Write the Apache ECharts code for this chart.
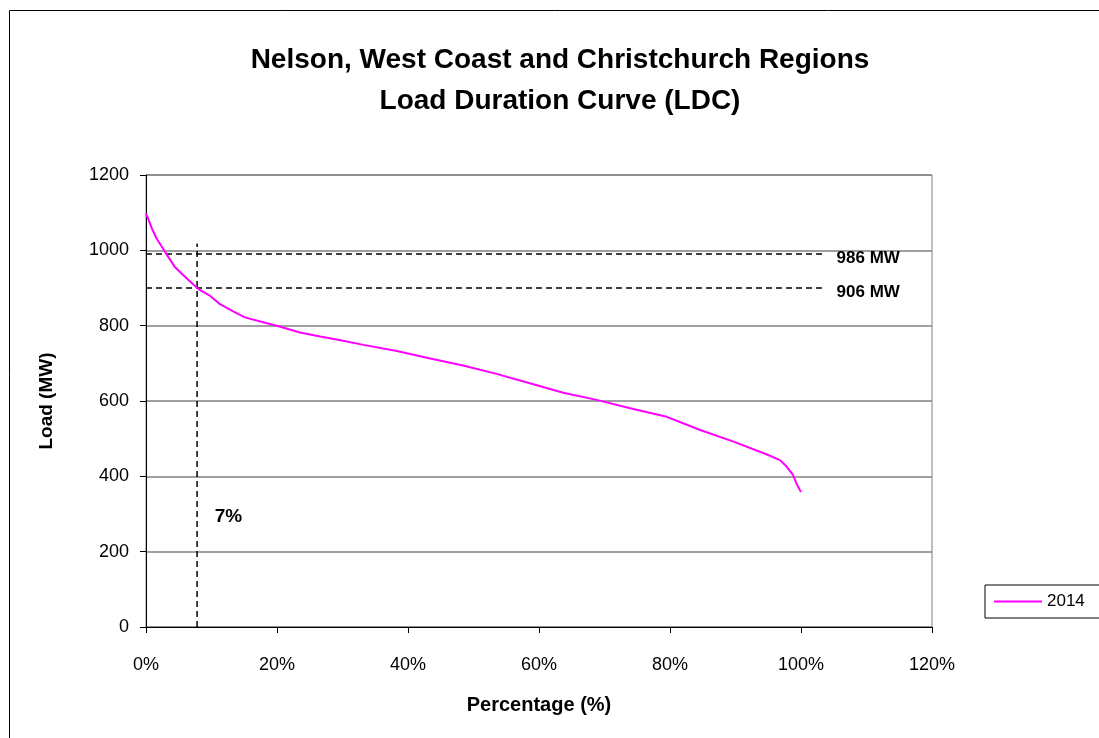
<!DOCTYPE html>
<html>
<head>
<meta charset="utf-8">
<script src="https://cdn.jsdelivr.net/npm/echarts@6/dist/echarts.min.js"></script>
<style>
  html, body { margin: 0; padding: 0; background: #fff; }
  #ldc_chart { width: 1099px; height: 738px; }
</style>
</head>
<body>
<div id="ldc_chart"></div>
<script>
// load duration curve
var pct = [0, 0.9, 1.6, 2.9, 4.4, 6.2, 8.0, 9.8, 11.3, 13.3, 15.1, 17.9, 20.5, 23.5, 26.6, 29.5,
           33.2, 38.3, 43.4, 48.4, 53.5, 58.6, 63.7, 68.8, 74.4, 79.5, 82.0, 84.6, 89.7, 94.8,
           96.8, 97.8, 98.8, 99.3, 100];
var load = [1098, 1058, 1032, 996, 956, 926, 897, 879, 857, 838, 822, 809, 797, 782, 771, 762,
            749, 733, 713, 694, 672, 647, 622, 603, 579, 558, 541, 523, 492, 458,
            443, 426, 403, 381, 358];

// reference lines
var refLoads = [990, 900];
var refLabels = ['986 MW', '906 MW'];
var refEnd = 103.6;
var cutPct = 7.8;
var cutTop = 1018;
var cutLabel = '7%';
var cutLabelPos = [12.6, 292];

var xTicks = [0, 20, 40, 60, 80, 100, 120];
var yTicks = [0, 200, 400, 600, 800, 1000, 1200];

var font = 'Liberation Sans, Arial, sans-serif';

var curve = pct.map(function (p, i) { return [p, load[i]]; });

var series = [
    {
        name: '2014',
        type: 'line',
        data: curve,
        symbol: 'none',
        lineStyle: { color: '#ff00ff', width: 2 },
        itemStyle: { color: '#ff00ff' },
        z: 5
    },
    {
        name: 'cut',
        type: 'line',
        data: [[cutPct, 0], [cutPct, cutTop]],
        symbol: 'none',
        silent: true,
        lineStyle: { color: '#000', width: 1.5, type: [6, 4] }
    },
    {
        name: 'cutLabel',
        type: 'scatter',
        data: [cutLabelPos],
        symbolSize: 0,
        silent: true,
        itemStyle: { opacity: 1, color: '#000' },
        label: {
            show: true,
            position: 'inside',
            formatter: cutLabel,
            color: '#000',
            opacity: 1,
            fontFamily: font,
            fontWeight: 'bold',
            fontSize: 19
        }
    }
];

refLoads.forEach(function (v, i) {
    series.push({
        name: 'ref' + i,
        type: 'line',
        data: [[0, v], [refEnd, v]],
        symbol: 'none',
        silent: true,
        lineStyle: { color: '#000', width: 1.5, type: [6, 4] },
        endLabel: {
            show: true,
            formatter: refLabels[i],
            color: '#000',
            fontFamily: font,
            fontWeight: 'bold',
            fontSize: 17,
            distance: 12,
            offset: [0, 4]
        }
    });
});

var chart = echarts.init(document.getElementById('ldc_chart'));
chart.setOption({
    animation: false,
    backgroundColor: '#fff',
    textStyle: { fontFamily: font },
    graphic: [{
        type: 'rect',
        shape: { x: 9.5, y: 10.5, width: 1200, height: 800 },
        style: { fill: 'none', stroke: '#000', lineWidth: 1 },
        silent: true
    }],
    title: {
        text: 'Nelson, West Coast and Christchurch Regions\nLoad Duration Curve (LDC)',
        left: 555,
        top: 35,
        textAlign: 'center',
        textStyle: {
            fontFamily: font,
            fontWeight: 'bold',
            fontSize: 28,
            lineHeight: 41,
            color: '#000'
        }
    },
    legend: {
        data: ['2014'],
        left: 985,
        top: 585,
        orient: 'vertical',
        itemWidth: 48,
        itemHeight: 2,
        padding: [8, 40, 8, 8],
        borderColor: '#000',
        borderWidth: 1,
        textStyle: { fontFamily: font, fontSize: 17, color: '#000' }
    },
    grid: {
        left: 146,
        right: 167,
        top: 175,
        bottom: 111,
        show: true,
        borderColor: '#808080',
        borderWidth: 1
    },
    xAxis: {
        type: 'value',
        min: xTicks[0],
        max: xTicks[xTicks.length - 1],
        interval: 20,
        name: 'Percentage (%)',
        nameLocation: 'middle',
        nameGap: 68,
        nameTextStyle: { fontFamily: font, fontWeight: 'bold', fontSize: 20, color: '#000' },
        axisLine: { lineStyle: { color: '#000', width: 1 } },
        axisTick: { show: true, length: 6, lineStyle: { color: '#000' } },
        axisLabel: {
            formatter: '{value}%',
            fontFamily: font,
            fontSize: 18,
            color: '#000',
            margin: 29
        },
        splitLine: { show: false }
    },
    yAxis: {
        type: 'value',
        min: yTicks[0],
        max: yTicks[yTicks.length - 1],
        interval: 200,
        name: 'Load (MW)',
        nameLocation: 'middle',
        nameGap: 90,
        nameTextStyle: { fontFamily: font, fontWeight: 'bold', fontSize: 19, color: '#000' },
        axisLine: { show: true, lineStyle: { color: '#000', width: 1 } },
        axisTick: { show: true, length: 6, lineStyle: { color: '#000' } },
        axisLabel: {
            formatter: function (v) { return String(v); },
            fontFamily: font,
            fontSize: 18,
            color: '#000',
            margin: 17
        },
        splitLine: { show: true, lineStyle: { color: '#808080', width: 1.5 } }
    },
    series: series
});

window.addEventListener('resize', function () {
    chart.resize();
});
</script>
</body>
</html>
